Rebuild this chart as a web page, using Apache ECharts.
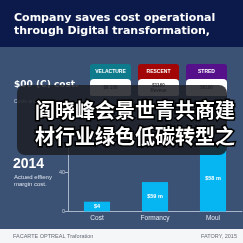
<!DOCTYPE html>
<html><head><meta charset="utf-8">
<script src="https://cdn.jsdelivr.net/npm/echarts@6/dist/echarts.min.js"></script>
<style>html,body{margin:0;padding:0;}#c{width:243px;height:243px;}</style>
</head><body><div id="c"></div>
<script>
const categories = ['Cost', 'Formancy', 'Moul'];
const values = [10, 30, 68];
const barLabels = ['$4', '$59 m', '$58 m'];
const yTicks = [0, 40, 80];
const shownYTicks = [0, 40];
const headerNames = ['VELACTURE', 'RESCENT', 'STRED'];
const headerValues = ['$6 100', '$1160\nReveue', '$6100'];
const titleLines = ['Company saves cost operational', 'through Digital transformation,'];
const overlayLines = ['阎晓峰会景世青共商建', '材行业绿色低碳转型之'];

const chart = echarts.init(document.getElementById('c'), null, {renderer: 'canvas'});
const headerColors = ['#0d7b8c', '#a30606', '#55108a'];
const headerX = [90, 138, 186];
const graphics = [
  {type: 'rect', shape: {x: 0, y: 0, width: 243, height: 47}, style: {fill: '#0b1a4b'}, z: 0},
  {type: 'rect', shape: {x: 0, y: 229, width: 243, height: 14}, style: {fill: '#f5f6f8'}, z: 0},
  {type: 'text', x: 14, y: 11.5, style: {text: titleLines.join('\n'), fill: '#ffffff', font: 'bold 11px "DejaVu Sans", sans-serif', lineHeight: 13}, z: 1},
  {type: 'text', x: 14, y: 80, style: {text: '$00 (C) cost.', fill: '#ffffff', font: 'bold 9px "DejaVu Sans", sans-serif'}, z: 1},
  {type: 'text', x: 14, y: 99, style: {text: 'Costs and savings', fill: '#c8d0dc', font: '5px "Liberation Sans", sans-serif'}, z: 1},
  {type: 'text', x: 13, y: 157, style: {text: '2014', fill: '#ffffff', font: 'bold 14px "Liberation Sans", sans-serif'}, z: 1},
  {type: 'text', x: 14, y: 174, style: {text: 'Actued effieny\nmargin cost.', fill: '#dde3ec', font: '6px "Liberation Sans", sans-serif', lineHeight: 7}, z: 1},
  {type: 'text', x: 13, y: 233, style: {text: 'FACARTE OPTREAL Traforation', fill: '#666c75', font: '5.5px "Liberation Sans", sans-serif'}, z: 1},
  {type: 'text', x: 201, y: 233, style: {text: 'FATORY, 2015', fill: '#666c75', font: '5.5px "Liberation Sans", sans-serif'}, z: 1}
];
headerNames.forEach((n, i) => {
  const x = headerX[i];
  graphics.push({type: 'rect', shape: {x: x, y: 64, width: 41, height: 16, r: [3, 3, 0, 0]}, style: {fill: headerColors[i]}, z: 1});
  graphics.push({type: 'rect', shape: {x: x, y: 79, width: 41, height: 17, r: [4, 4, 2, 2]}, style: {fill: '#ffffff'}, z: 1});
  graphics.push({type: 'text', x: x + 20.5, y: 72, style: {text: n, fill: '#ffffff', font: 'bold 5px "Liberation Sans", sans-serif', align: 'center', verticalAlign: 'middle'}, z: 2});
  graphics.push({type: 'text', x: x + 20.5, y: 88, style: {text: headerValues[i], fill: '#444444', font: 'bold 4.5px "Liberation Sans", sans-serif', align: 'center', verticalAlign: 'middle', lineHeight: 5}, z: 2});
});
graphics.push({type: 'rect', shape: {x: 17, y: 85, width: 210, height: 70, r: 8}, style: {fill: 'rgba(28,30,36,0.86)'}, z: 50});
graphics.push({type: 'text', x: 135, y: 110, style: {text: overlayLines[0], fill: '#ffffff', stroke: '#000000', lineWidth: 3, font: 'bold 20px "Noto Sans CJK SC"', align: 'center', verticalAlign: 'middle'}, z: 51});
graphics.push({type: 'text', x: 135, y: 136, style: {text: overlayLines[1], fill: '#ffffff', stroke: '#000000', lineWidth: 3, font: 'bold 20px "Noto Sans CJK SC"', align: 'center', verticalAlign: 'middle'}, z: 51});

chart.setOption({
  backgroundColor: '#3b5275',
  animation: false,
  grid: {left: 68, right: 1, top: 133, bottom: 31.5},
  xAxis: {
    type: 'category', data: categories,
    axisLine: {lineStyle: {color: '#a9b5c8', width: 1}},
    axisTick: {show: false},
    axisLabel: {color: '#e4e9f0', fontSize: 6.5, margin: 3, fontFamily: 'Liberation Sans'}
  },
  yAxis: {
    type: 'value', min: yTicks[0], max: yTicks[2], interval: yTicks[1] - yTicks[0],
    splitLine: {show: false},
    axisLine: {show: true, lineStyle: {color: '#a9b5c8', width: 1}},
    axisTick: {show: true, inside: false, length: 3, lineStyle: {color: '#a9b5c8'}},
    axisLabel: {color: '#c8d0dc', fontSize: 5.5, margin: 3, fontFamily: 'Liberation Sans',
      formatter: v => shownYTicks.indexOf(v) >= 0 ? String(v) : ''}
  },
  series: [{
    type: 'bar', data: values, barWidth: '45%',
    itemStyle: {color: '#06b6f2'},
    label: {show: true, position: 'inside', color: '#ffffff', fontSize: 5.5, fontWeight: 'bold', fontFamily: 'Liberation Sans', formatter: p => barLabels[p.dataIndex]}
  }],
  graphic: graphics
});
</script></body></html>
